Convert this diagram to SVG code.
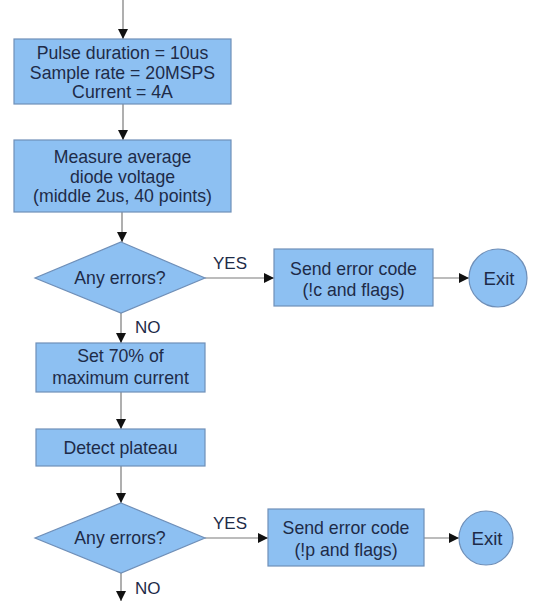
<svg xmlns="http://www.w3.org/2000/svg" width="534" height="602" viewBox="0 0 534 602">
  <style>
    .shape { fill: #8dc0f2; stroke: #6f8fb8; stroke-width: 1.2; }
    .label { font-family: "Liberation Sans", Arial, sans-serif; font-size: 17.7px; fill: #1e2b48; text-anchor: middle; dominant-baseline: central; }
    .big { font-size: 18.6px; }
    .tag { font-family: "Liberation Sans", Arial, sans-serif; font-size: 17px; fill: #1e2b48; dominant-baseline: central; }
    .wire { fill: none; stroke: #7a7a7a; stroke-width: 1.2; marker-end: url(#arrow); }
  </style>
  <defs>
    <marker id="arrow" viewBox="0 0 10 10" refX="10" refY="5" markerWidth="10" markerHeight="10" markerUnits="userSpaceOnUse" orient="auto">
      <path d="M0,0 L10,5 L0,10 z" fill="#111"/>
    </marker>
  </defs>
  <rect width="534" height="602" fill="#ffffff"/>

  <g id="connectors">
    <path class="wire" d="M123,0 V39"/>
    <path class="wire" d="M123,104 V140"/>
    <path class="wire" d="M122,212 V242"/>
    <path class="wire" d="M205,278 H274"/>
    <path class="wire" d="M433,278 H469"/>
    <path class="wire" d="M121,313 V343"/>
    <path class="wire" d="M121,392 V429"/>
    <path class="wire" d="M121,466 V503"/>
    <path class="wire" d="M205,538 H268"/>
    <path class="wire" d="M424,538 H459"/>
    <path class="wire" d="M121,573 V601"/>
    <text class="tag" x="213" y="263">YES</text>
    <text class="tag" x="135" y="327">NO</text>
    <text class="tag" x="213" y="523">YES</text>
    <text class="tag" x="135" y="588">NO</text>
  </g>

  <g id="setup">
    <rect class="shape" x="14" y="39" width="217" height="65"/>
    <text class="label" x="122.5" y="53">Pulse duration = 10us</text>
    <text class="label" x="122.5" y="72.5">Sample rate = 20MSPS</text>
    <text class="label" x="122.5" y="92">Current = 4A</text>
  </g>

  <g id="measure">
    <rect class="shape" x="14" y="140" width="217" height="72"/>
    <text class="label" x="122.5" y="157">Measure average</text>
    <text class="label" x="122.5" y="176.5">diode voltage</text>
    <text class="label" x="122.5" y="196">(middle 2us, 40 points)</text>
  </g>

  <g id="check1">
    <polygon class="shape" points="121,242 205,278 121,313 35,278"/>
    <text class="label" x="120" y="278">Any errors?</text>
  </g>

  <g id="error1">
    <rect class="shape" x="274" y="249" width="159" height="57"/>
    <text class="label" x="353.5" y="268.5">Send error code</text>
    <text class="label" x="353.5" y="289.5">(!c and flags)</text>
  </g>

  <g id="exit1">
    <circle class="shape" cx="498" cy="278" r="29"/>
    <text class="label big" x="499" y="278">Exit</text>
  </g>

  <g id="setcurrent">
    <rect class="shape" x="36" y="343" width="169" height="49"/>
    <text class="label" x="120.5" y="355.5">Set 70% of</text>
    <text class="label" x="120.5" y="378">maximum current</text>
  </g>

  <g id="plateau">
    <rect class="shape" x="36" y="429" width="169" height="37"/>
    <text class="label" x="120.5" y="447.5">Detect plateau</text>
  </g>

  <g id="check2">
    <polygon class="shape" points="121,503 205,538 121,573 35,538"/>
    <text class="label" x="120" y="538">Any errors?</text>
  </g>

  <g id="error2">
    <rect class="shape" x="268" y="509" width="156" height="57"/>
    <text class="label" x="346" y="528">Send error code</text>
    <text class="label" x="346" y="550">(!p and flags)</text>
  </g>

  <g id="exit2">
    <circle class="shape" cx="486" cy="538" r="27"/>
    <text class="label big" x="487" y="538">Exit</text>
  </g>
</svg>
